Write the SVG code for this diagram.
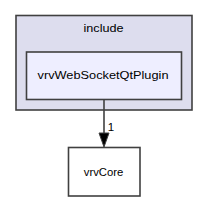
<svg xmlns="http://www.w3.org/2000/svg" width="208" height="201" viewBox="0 0 208 201">
<style>
text{font-family:"Liberation Sans",Arial,sans-serif;font-size:11.5px;fill:#000;text-anchor:middle}
.box{stroke:#404040;stroke-width:1.6}
</style>
<g id="cluster_include">
<rect class="box" x="16" y="15.5" width="176" height="94.5" fill="#ddddee"/>
<text x="103.5" y="31.5" textLength="40" lengthAdjust="spacingAndGlyphs">include</text>
</g>
<g id="node_plugin">
<rect class="box" x="26.5" y="52" width="155" height="47.5" fill="#eeeeff"/>
<text x="103" y="79" textLength="131" lengthAdjust="spacingAndGlyphs">vrvWebSocketQtPlugin</text>
</g>
<g id="node_vrvCore">
<rect class="box" x="68.5" y="147.5" width="71.5" height="48.5" fill="#ffffff"/>
<text x="103.5" y="175.5" textLength="39.5" lengthAdjust="spacingAndGlyphs">vrvCore</text>
</g>
<g id="connectors">
<line x1="104" y1="99.5" x2="104" y2="134" stroke="#404040" stroke-width="1.6"/>
<polygon points="99,133 109,133 104,147" fill="#000" stroke="#404040" stroke-width="1"/>
<text x="111" y="131">1</text>
</g>
</svg>
